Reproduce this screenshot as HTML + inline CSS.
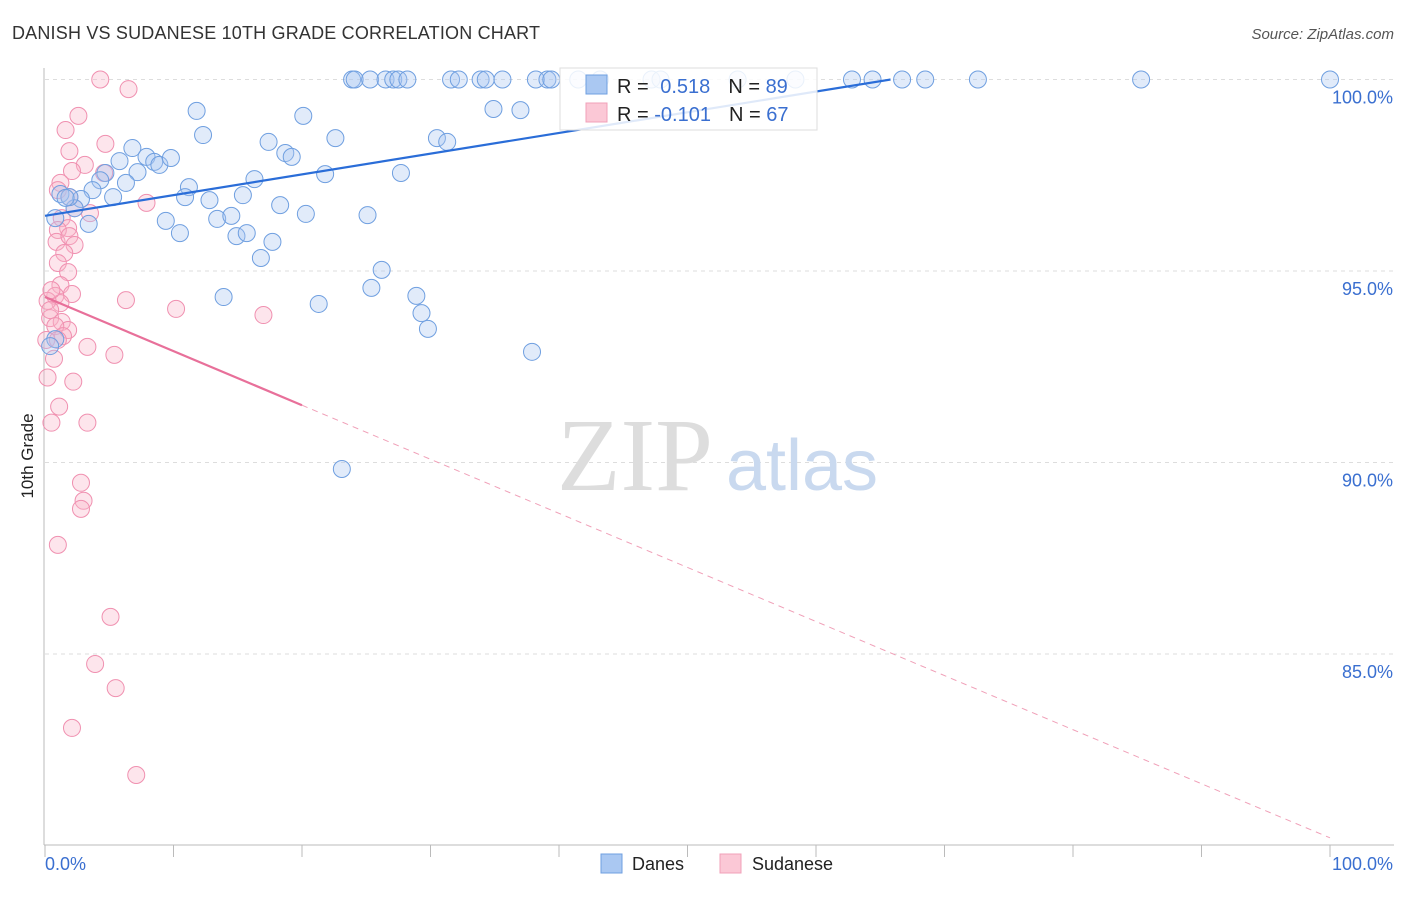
<!DOCTYPE html>
<html><head><meta charset="utf-8">
<style>
body{margin:0;background:#fff;font-family:"Liberation Sans",sans-serif;}
svg text{font-family:"Liberation Sans",sans-serif;}
</style></head>
<body>
<svg id="chart" width="1406" height="892">
<text x="12" y="39" font-size="18" fill="#333" textLength="528">DANISH VS SUDANESE 10TH GRADE CORRELATION CHART</text>
<text x="1394" y="39" font-size="15" fill="#555" text-anchor="end" font-style="italic">Source: ZipAtlas.com</text>
<text x="0" y="0" font-size="17" fill="#222" transform="translate(33,456) rotate(-90)" text-anchor="middle">10th Grade</text>
<g id="grid"></g>
<g>
<text x="635" y="490" font-size="104" fill="#ddd" text-anchor="middle" style="font-family:'Liberation Serif',serif">ZIP</text>
<text x="802" y="490" font-size="72" fill="#c9d9ef" text-anchor="middle">atlas</text>
</g>
<g id="axes"></g>
<g id="marks"></g>
<g id="trends"></g>
<g>
<rect x="560" y="68" width="257" height="62" fill="#fff" fill-opacity="0.85" stroke="#ddd"/>
<rect x="586" y="75" width="21" height="19" fill="#aac8f2" stroke="#6f9fe0"/>
<text x="617" y="93" font-size="20" fill="#222">R = <tspan fill="#3a6fd0" dx="6">0.518</tspan><tspan dx="18" fill="#222">N = </tspan><tspan fill="#3a6fd0">89</tspan></text>
<rect x="586" y="103" width="21" height="19" fill="#fbc8d6" stroke="#f0a0b8"/>
<text x="617" y="121" font-size="20" fill="#222">R = <tspan fill="#3a6fd0">-0.101</tspan><tspan dx="18" fill="#222">N = </tspan><tspan fill="#3a6fd0">67</tspan></text>
</g>
<g>
<rect x="601" y="854" width="21" height="19" fill="#aac8f2" stroke="#6f9fe0"/>
<text x="632" y="870" font-size="18" fill="#222">Danes</text>
<rect x="720" y="854" width="21" height="19" fill="#fbc8d6" stroke="#f0a0b8"/>
<text x="752" y="870" font-size="18" fill="#222">Sudanese</text>
</g>
</svg>
<script>
const yTicks=[100,95,90,85];
const yTickLabels=["100.0%","95.0%","90.0%","85.0%"];
const xEndLabels=["0.0%","100.0%"];
const danesX=[23.9,24.1,25.3,26.5,27.1,27.5,28.2,31.6,32.2,33.9,34.3,35.6,38.2,39.1,39.4,41.5,43.2,47.2,47.9,53.9,58.4,62.8,64.4,66.7,68.5,72.6,85.3,100,
11.8,20.1,34.9,37.0,12.3,17.4,22.6,30.5,31.3,6.8,7.9,5.8,8.5,8.9,9.8,18.7,19.2,7.2,4.7,4.3,6.3,16.3,21.8,27.7,3.7,1.2,2.8,5.3,11.2,10.9,12.8,15.4,18.3,20.3,25.1,2.3,0.8,3.4,9.4,10.5,13.4,14.5,14.9,15.7,17.7,16.8,26.2,25.4,13.9,21.3,28.9,29.3,29.8,37.9,23.1,0.8,0.4,1.9,1.6];
const danesY=[100,100,100,100,100,100,100,100,100,100,100,100,100,100,100,100,100,100,100,100,100,100,100,100,100,100,100,100,
99.18,99.05,99.23,99.20,98.55,98.37,98.47,98.47,98.37,98.21,97.98,97.87,97.85,97.77,97.95,98.08,97.98,97.58,97.56,97.37,97.30,97.40,97.53,97.56,97.11,97.01,96.88,96.93,97.19,96.93,96.85,96.98,96.72,96.49,96.46,96.64,96.38,96.23,96.31,95.99,96.36,96.44,95.91,95.99,95.76,95.34,95.03,94.56,94.32,94.14,94.35,93.90,93.49,92.89,89.83,93.22,93.04,96.93,96.91];
const sudX=[4.3,6.5,2.6,1.6,4.7,1.9,3.1,2.1,1.2,4.6,1.0,1.9,3.5,7.9,1.3,2.3,1.8,1.0,0.9,1.9,2.3,1.5,1.0,1.8,1.2,0.8,2.1,1.2,6.3,10.2,17.0,0.4,1.3,1.8,0.8,1.4,3.3,5.4,0.7,0.2,2.2,1.1,3.3,0.5,2.8,3.0,2.8,1.0,5.1,3.9,5.5,2.1,7.1,0.2,0.5,0.1,1.0,0.4];
const sudY=[100,99.75,99.05,98.68,98.32,98.13,97.77,97.61,97.30,97.56,97.11,96.93,96.51,96.78,96.38,96.64,96.12,96.07,95.76,95.91,95.68,95.47,95.21,94.97,94.63,94.35,94.40,94.16,94.24,94.01,93.85,93.77,93.67,93.46,93.56,93.30,93.02,92.81,92.71,92.22,92.11,91.46,91.04,91.04,89.47,89.00,88.79,87.85,85.97,84.74,84.11,83.07,81.84,94.22,94.50,93.20,93.20,93.98];
const danesTrend=[96.44,100.0];
const danesTrendX=[0,65.8];
const sudTrend=[94.32,80.20];
const sudSolidEnd=20;

const NS="http://www.w3.org/2000/svg";
const X0=45,X1=1330,Y100=79.5,PXPER=38.3;
const sx=v=>X0+(X1-X0)*v/100;
const sy=v=>Y100+(100-v)*PXPER;
function mk(tag,attrs,parent){const e=document.createElementNS(NS,tag);for(const k in attrs)e.setAttribute(k,attrs[k]);parent.appendChild(e);return e;}
const grid=document.getElementById('grid'),axes=document.getElementById('axes'),marks=document.getElementById('marks'),trends=document.getElementById('trends');
yTicks.forEach((t,i)=>{
 const l=mk('line',{x1:X0,x2:1394,y1:sy(t),y2:sy(t),stroke:'#ddd','stroke-dasharray':'4,4'},grid);
 
 
 const tx=mk('text',{x:1393,y:sy(t)+24,'font-size':18,fill:'#3a6fd0','text-anchor':'end'},axes);
 tx.textContent=yTickLabels[i];
 
 
});
const ax=mk('line',{x1:44,x2:44,y1:68,y2:845,stroke:'#bbb'},axes);


const bx=mk('line',{x1:44,x2:1394,y1:845,y2:845,stroke:'#bbb'},axes);


for(let i=0;i<=10;i++){
 const t=mk('line',{x1:sx(i*10),x2:sx(i*10),y1:845,y2:857,stroke:'#bbb'},axes);
 
 
}
const xl0=mk('text',{x:45,y:870,'font-size':18,fill:'#3a6fd0'},axes);xl0.textContent=xEndLabels[0];


const xl1=mk('text',{x:1393,y:870,'font-size':18,fill:'#3a6fd0','text-anchor':'end'},axes);xl1.textContent=xEndLabels[1];


sudX.forEach((x,i)=>{
 const c=mk('circle',{cx:sx(x),cy:sy(sudY[i]),r:8.5,fill:'#f8b4c8','fill-opacity':0.35,stroke:'#f090b0','stroke-width':1},marks);
 
 
});
danesX.forEach((x,i)=>{
 const c=mk('circle',{cx:sx(x),cy:sy(danesY[i]),r:8.5,fill:'#a8c6f0','fill-opacity':0.35,stroke:'#6f9fe0','stroke-width':1},marks);
 
 
});
const bt=mk('line',{x1:sx(danesTrendX[0]),y1:sy(danesTrend[0]),x2:sx(danesTrendX[1]),y2:sy(danesTrend[1]),stroke:'#2a6dd8','stroke-width':2.2},trends);


const sAt=x=>sudTrend[0]+(sudTrend[1]-sudTrend[0])*x/100;
const pt=mk('line',{x1:sx(0),y1:sy(sAt(0)),x2:sx(sudSolidEnd),y2:sy(sAt(sudSolidEnd)),stroke:'#e8709a','stroke-width':2.2},trends);


const pd=mk('line',{x1:sx(sudSolidEnd),y1:sy(sAt(sudSolidEnd)),x2:sx(100),y2:sy(sAt(100)),stroke:'#f0a0b8','stroke-width':1,'stroke-dasharray':'6,5'},trends);


</script>
</body></html>
